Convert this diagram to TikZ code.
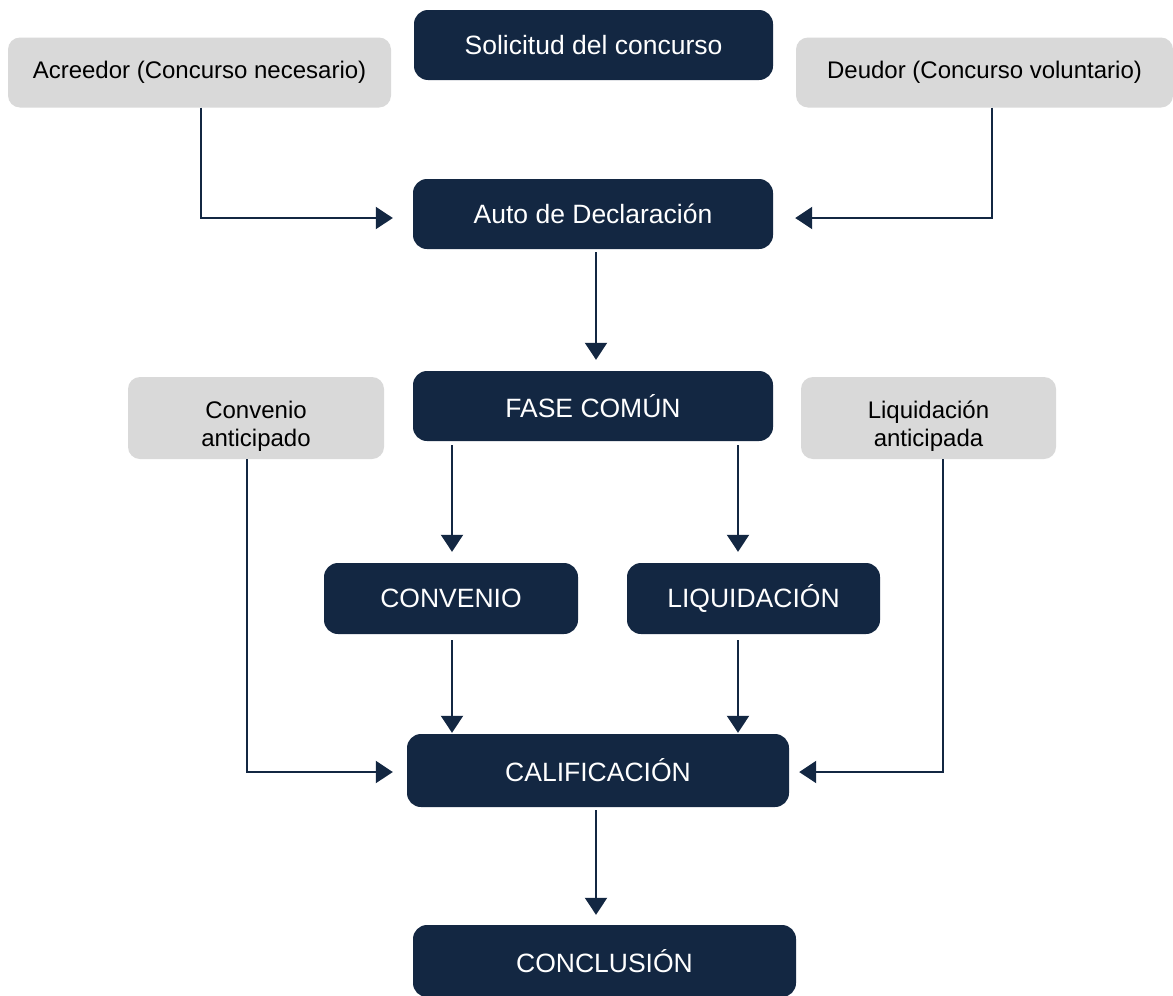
\documentclass[tikz,border=0pt]{standalone}
\usepackage{fontspec}
\setmainfont{Liberation Sans}
\usetikzlibrary{arrows.meta,calc}
\definecolor{navy}{RGB}{19,39,66}
\definecolor{greybox}{RGB}{217,217,217}
\begin{document}
\begin{tikzpicture}[x=1pt,y=-1pt,
  darkbox/.style={fill=navy,draw=none,rounded corners=14pt,text=white,font=\fontsize{26.5}{31}\selectfont,inner sep=0pt},
  greyb/.style={fill=greybox,draw=none,rounded corners=12pt,text=black,font=\fontsize{24}{28}\selectfont,inner sep=0pt},
  gtext/.style={text=black,font=\fontsize{24}{28}\selectfont,inner sep=0pt,anchor=base},
  conn/.style={draw=navy,line width=2.2pt,-{Triangle[length=17pt,width=22pt]}}]
\useasboundingbox (0,0) rectangle (1173,996);
\fill[white] (0,0) rectangle (1173,996);
% nodes
\node[darkbox,minimum width=359pt,minimum height=70pt] (sol) at (593.5,45) {Solicitud del concurso};
\node[greyb,minimum width=383pt,minimum height=70pt] (acr) at (199.5,72.5) {Acreedor (Concurso necesario)};
\node[greyb,minimum width=377pt,minimum height=70pt] (deu) at (984.5,72.5) {Deudor (Concurso voluntario)};
\node[darkbox,minimum width=360pt,minimum height=70pt] (auto) at (593,214) {Auto de Declaración};
\node[darkbox,minimum width=360pt,minimum height=70pt] (fase) at (593,406) {FASE COMÚN};
\node[greyb,minimum width=256pt,minimum height=82pt] (conant) at (256,418) {};
\node[gtext] (conantA) at (256,418.6) {Convenio};
\node[gtext] (conantB) at (256,446.2) {anticipado};
\node[greyb,minimum width=255pt,minimum height=82pt] (liqant) at (928.5,418) {};
\node[gtext] (liqantA) at (928.5,418.6) {Liquidación};
\node[gtext] (liqantB) at (928.5,446.2) {anticipada};
\node[darkbox,minimum width=254pt,minimum height=71pt] (conv) at (451,598.5) {CONVENIO};
\node[darkbox,minimum width=253pt,minimum height=71pt] (liq) at (753.5,598.5) {LIQUIDACIÓN};
\node[darkbox,minimum width=382pt,minimum height=73pt] (cal) at (598,770.5) {CALIFICACIÓN};
\node[darkbox,minimum width=383pt,minimum height=72pt] (conc) at (604.5,961) {CONCLUSIÓN};
% helper coordinates
\coordinate (xl) at (452,0);
\coordinate (xr) at (738,0);
\coordinate (xm) at (596,0);
\coordinate (xa) at (201,0);
\coordinate (xd) at (992,0);
\coordinate (xca) at (247,0);
\coordinate (xla) at (943,0);
% connectors
\draw[conn,shorten >=20pt] (acr.south -| xa) |- ($(auto.west)+(0,4)$);
\draw[conn,shorten >=22pt] (deu.south -| xd) |- ($(auto.east)+(0,4)$);
\draw[conn,shorten <=3pt,shorten >=11pt] (auto.south -| xm) -- (fase.north -| xm);
\draw[conn,shorten <=4pt,shorten >=11pt] (fase.south -| xl) -- (conv.north -| xl);
\draw[conn,shorten <=4pt,shorten >=11pt] (fase.south -| xr) -- (liq.north -| xr);
\draw[conn,shorten <=6pt,shorten >=1pt] (conv.south -| xl) -- (cal.north -| xl);
\draw[conn,shorten <=6pt,shorten >=1pt] (liq.south -| xr) -- (cal.north -| xr);
\draw[conn,shorten >=14pt] (conant.south -| xca) |- ($(cal.west)+(0,1.5)$);
\draw[conn,shorten >=10pt] (liqant.south -| xla) |- ($(cal.east)+(0,1.5)$);
\draw[conn,shorten <=3pt,shorten >=10pt] (cal.south -| xm) -- (conc.north -| xm);
\end{tikzpicture}
\end{document}
